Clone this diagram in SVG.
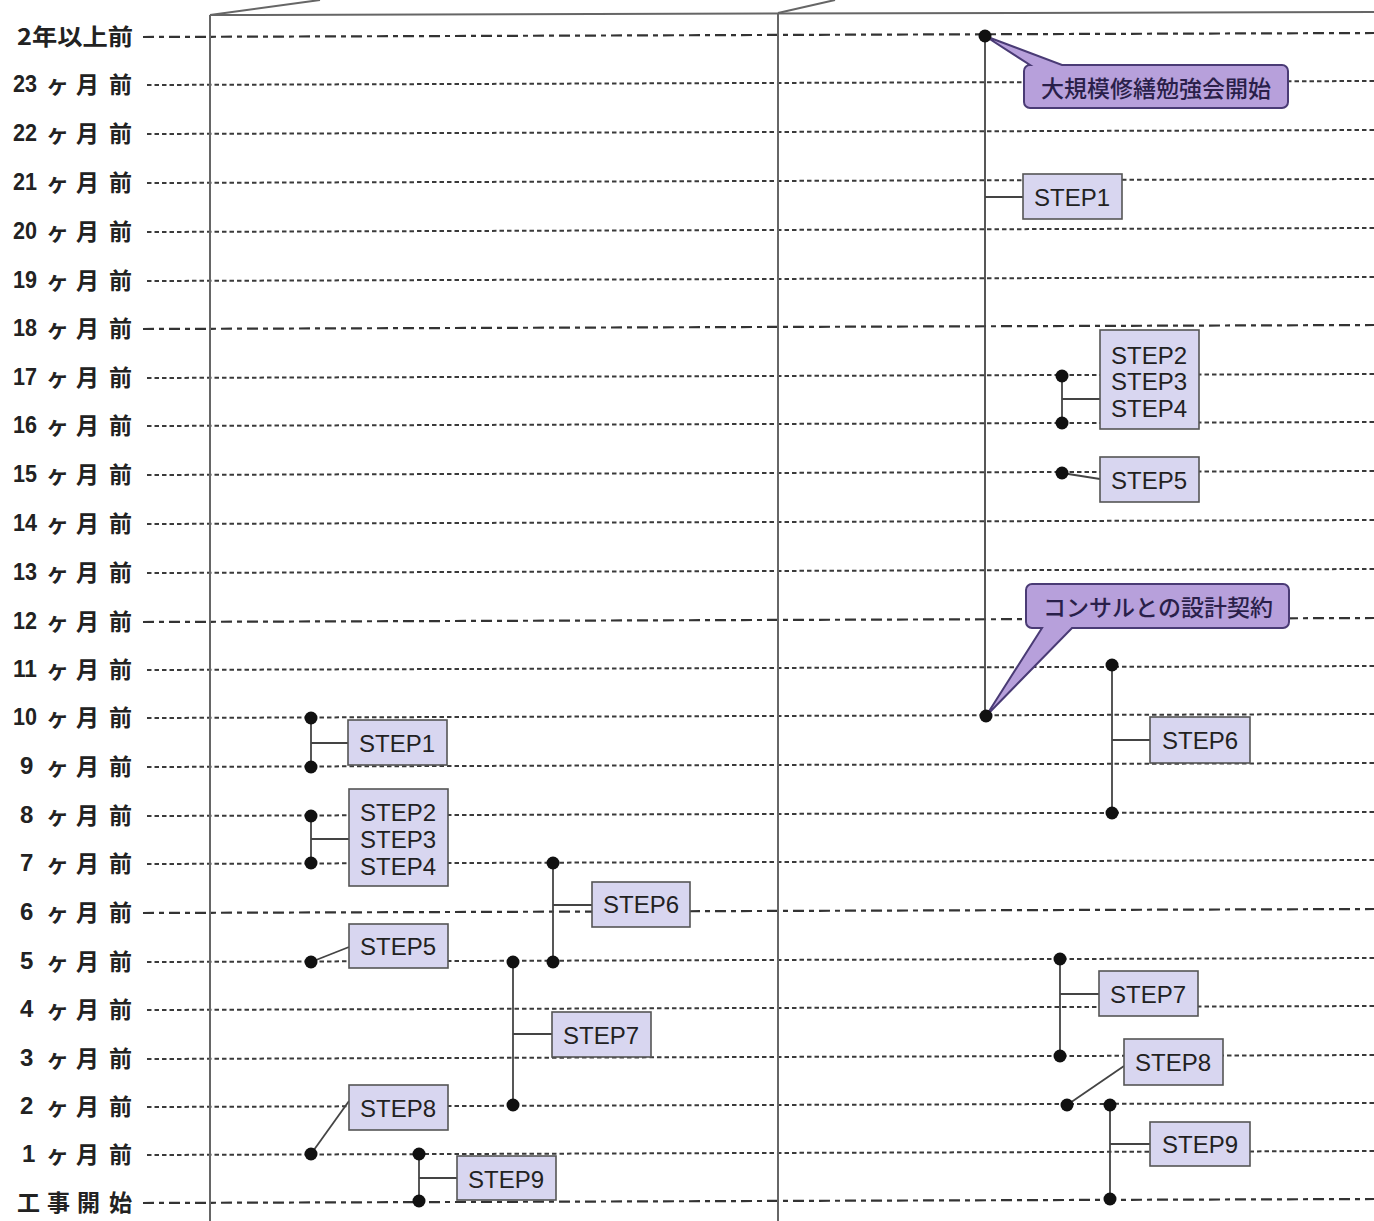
<svg xmlns="http://www.w3.org/2000/svg" width="1374" height="1221" viewBox="0 0 1374 1221">
<style>
.bg{fill:#ffffff}
.minor{stroke:#3a3a3a;stroke-width:2;stroke-dasharray:4.5 3;fill:none}
.major{stroke:#333;stroke-width:2.2;stroke-dasharray:11 5 5 5;fill:none}
.frame{stroke:#666;stroke-width:2;fill:none}
.conn{stroke:#444;stroke-width:1.8;fill:none}
.dot{fill:#111}
.box{fill:#d8d6f0;stroke:#555;stroke-width:1.6}
.step{font-family:"Liberation Sans","Noto Sans",sans-serif;font-size:24px;fill:#222;text-anchor:middle;dominant-baseline:central}
.lbl{font-family:"Noto Sans CJK JP","Noto Sans",sans-serif;font-size:23px;font-weight:bold;fill:#222;dominant-baseline:central}
.num{font-family:"Liberation Sans","Noto Sans CJK JP",sans-serif;font-size:24px;font-weight:bold;fill:#222;dominant-baseline:central}
.call{fill:#b7a0db;stroke:#4a3b75;stroke-width:2}
.ctext{font-family:"Noto Sans CJK JP","Noto Sans",sans-serif;font-size:23px;font-weight:500;fill:#2a1f4a;text-anchor:middle;dominant-baseline:central}
</style>
<rect class="bg" x="0" y="0" width="1374" height="1221"/>

<g id="gridlines">
<line class="major" x1="143" y1="37" x2="1374" y2="33"/>
<line class="minor" x1="147" y1="85" x2="1374" y2="81"/>
<line class="minor" x1="147" y1="134" x2="1374" y2="130"/>
<line class="minor" x1="147" y1="183" x2="1374" y2="179"/>
<line class="minor" x1="147" y1="232" x2="1374" y2="228"/>
<line class="minor" x1="147" y1="281" x2="1374" y2="277"/>
<line class="major" x1="143" y1="329" x2="1374" y2="325"/>
<line class="minor" x1="147" y1="378" x2="1374" y2="374"/>
<line class="minor" x1="147" y1="426" x2="1374" y2="422"/>
<line class="minor" x1="147" y1="475" x2="1374" y2="471"/>
<line class="minor" x1="147" y1="524" x2="1374" y2="520"/>
<line class="minor" x1="147" y1="573" x2="1374" y2="569"/>
<line class="major" x1="143" y1="622" x2="1374" y2="618"/>
<line class="minor" x1="147" y1="670" x2="1374" y2="666"/>
<line class="minor" x1="147" y1="718" x2="1374" y2="714"/>
<line class="minor" x1="147" y1="767" x2="1374" y2="763"/>
<line class="minor" x1="147" y1="816" x2="1374" y2="812"/>
<line class="minor" x1="147" y1="864" x2="1374" y2="860"/>
<line class="major" x1="143" y1="913" x2="1374" y2="909"/>
<line class="minor" x1="147" y1="962" x2="1374" y2="958"/>
<line class="minor" x1="147" y1="1010" x2="1374" y2="1006"/>
<line class="minor" x1="147" y1="1059" x2="1374" y2="1055"/>
<line class="minor" x1="147" y1="1107" x2="1374" y2="1103"/>
<line class="minor" x1="147" y1="1155" x2="1374" y2="1151"/>
<line class="major" x1="143" y1="1203" x2="1374" y2="1199"/>
</g>

<g id="frame">
<line class="frame" x1="210" y1="15" x2="210" y2="1221"/>
<line class="frame" x1="778" y1="13" x2="778" y2="1221"/>
<line class="frame" x1="210" y1="15" x2="1374" y2="12"/>
<line class="frame" x1="210" y1="15" x2="320" y2="0"/>
<line class="frame" x1="778" y1="13" x2="835" y2="0"/>
</g>

<g id="labels" transform="translate(0,-2)">
<text class="lbl" x="17" y="37" textLength="116" lengthAdjust="spacingAndGlyphs">2年以上前</text>
<g id="row-labels">
<text class="num" x="13" y="85" textLength="24" lengthAdjust="spacingAndGlyphs">23</text>
<text class="num" x="13" y="134" textLength="24" lengthAdjust="spacingAndGlyphs">22</text>
<text class="num" x="13" y="183" textLength="24" lengthAdjust="spacingAndGlyphs">21</text>
<text class="num" x="13" y="232" textLength="24" lengthAdjust="spacingAndGlyphs">20</text>
<text class="num" x="13" y="281" textLength="24" lengthAdjust="spacingAndGlyphs">19</text>
<text class="num" x="13" y="329" textLength="24" lengthAdjust="spacingAndGlyphs">18</text>
<text class="num" x="13" y="378" textLength="24" lengthAdjust="spacingAndGlyphs">17</text>
<text class="num" x="13" y="426" textLength="24" lengthAdjust="spacingAndGlyphs">16</text>
<text class="num" x="13" y="475" textLength="24" lengthAdjust="spacingAndGlyphs">15</text>
<text class="num" x="13" y="524" textLength="24" lengthAdjust="spacingAndGlyphs">14</text>
<text class="num" x="13" y="573" textLength="24" lengthAdjust="spacingAndGlyphs">13</text>
<text class="num" x="13" y="622" textLength="24" lengthAdjust="spacingAndGlyphs">12</text>
<text class="num" x="13" y="670" textLength="24" lengthAdjust="spacingAndGlyphs">11</text>
<text class="num" x="13" y="718" textLength="24" lengthAdjust="spacingAndGlyphs">10</text>
<text class="num" x="20" y="767">9</text>
<text class="num" x="20" y="816">8</text>
<text class="num" x="20" y="864">7</text>
<text class="num" x="20" y="913">6</text>
<text class="num" x="20" y="962">5</text>
<text class="num" x="20" y="1010">4</text>
<text class="num" x="20" y="1059">3</text>
<text class="num" x="20" y="1107">2</text>
<text class="num" x="22" y="1155">1</text>
</g>
<g id="unit-labels">
<text class="lbl" x="46" y="85">ヶ</text><text class="lbl" x="76" y="85">月</text><text class="lbl" x="109" y="85">前</text>
<text class="lbl" x="46" y="134">ヶ</text><text class="lbl" x="76" y="134">月</text><text class="lbl" x="109" y="134">前</text>
<text class="lbl" x="46" y="183">ヶ</text><text class="lbl" x="76" y="183">月</text><text class="lbl" x="109" y="183">前</text>
<text class="lbl" x="46" y="232">ヶ</text><text class="lbl" x="76" y="232">月</text><text class="lbl" x="109" y="232">前</text>
<text class="lbl" x="46" y="281">ヶ</text><text class="lbl" x="76" y="281">月</text><text class="lbl" x="109" y="281">前</text>
<text class="lbl" x="46" y="329">ヶ</text><text class="lbl" x="76" y="329">月</text><text class="lbl" x="109" y="329">前</text>
<text class="lbl" x="46" y="378">ヶ</text><text class="lbl" x="76" y="378">月</text><text class="lbl" x="109" y="378">前</text>
<text class="lbl" x="46" y="426">ヶ</text><text class="lbl" x="76" y="426">月</text><text class="lbl" x="109" y="426">前</text>
<text class="lbl" x="46" y="475">ヶ</text><text class="lbl" x="76" y="475">月</text><text class="lbl" x="109" y="475">前</text>
<text class="lbl" x="46" y="524">ヶ</text><text class="lbl" x="76" y="524">月</text><text class="lbl" x="109" y="524">前</text>
<text class="lbl" x="46" y="573">ヶ</text><text class="lbl" x="76" y="573">月</text><text class="lbl" x="109" y="573">前</text>
<text class="lbl" x="46" y="622">ヶ</text><text class="lbl" x="76" y="622">月</text><text class="lbl" x="109" y="622">前</text>
<text class="lbl" x="46" y="670">ヶ</text><text class="lbl" x="76" y="670">月</text><text class="lbl" x="109" y="670">前</text>
<text class="lbl" x="46" y="718">ヶ</text><text class="lbl" x="76" y="718">月</text><text class="lbl" x="109" y="718">前</text>
<text class="lbl" x="46" y="767">ヶ</text><text class="lbl" x="76" y="767">月</text><text class="lbl" x="109" y="767">前</text>
<text class="lbl" x="46" y="816">ヶ</text><text class="lbl" x="76" y="816">月</text><text class="lbl" x="109" y="816">前</text>
<text class="lbl" x="46" y="864">ヶ</text><text class="lbl" x="76" y="864">月</text><text class="lbl" x="109" y="864">前</text>
<text class="lbl" x="46" y="913">ヶ</text><text class="lbl" x="76" y="913">月</text><text class="lbl" x="109" y="913">前</text>
<text class="lbl" x="46" y="962">ヶ</text><text class="lbl" x="76" y="962">月</text><text class="lbl" x="109" y="962">前</text>
<text class="lbl" x="46" y="1010">ヶ</text><text class="lbl" x="76" y="1010">月</text><text class="lbl" x="109" y="1010">前</text>
<text class="lbl" x="46" y="1059">ヶ</text><text class="lbl" x="76" y="1059">月</text><text class="lbl" x="109" y="1059">前</text>
<text class="lbl" x="46" y="1107">ヶ</text><text class="lbl" x="76" y="1107">月</text><text class="lbl" x="109" y="1107">前</text>
<text class="lbl" x="46" y="1155">ヶ</text><text class="lbl" x="76" y="1155">月</text><text class="lbl" x="109" y="1155">前</text>
</g>
<text class="lbl" x="17" y="1203">工</text><text class="lbl" x="47" y="1203">事</text><text class="lbl" x="77" y="1203">開</text><text class="lbl" x="109" y="1203">始</text>
</g>

<g id="connectors">
<line class="conn" x1="311" y1="718" x2="311" y2="767"/>
<line class="conn" x1="311" y1="743" x2="348" y2="743"/>
<line class="conn" x1="311" y1="816" x2="311" y2="863"/>
<line class="conn" x1="311" y1="839" x2="349" y2="839"/>
<line class="conn" x1="311" y1="962" x2="349" y2="947"/>
<line class="conn" x1="311" y1="1154" x2="349" y2="1101"/>
<line class="conn" x1="419" y1="1154" x2="419" y2="1201"/>
<line class="conn" x1="419" y1="1178" x2="457" y2="1178"/>
<line class="conn" x1="513" y1="962" x2="513" y2="1105"/>
<line class="conn" x1="513" y1="1034" x2="552" y2="1034"/>
<line class="conn" x1="553" y1="863" x2="553" y2="962"/>
<line class="conn" x1="553" y1="905" x2="592" y2="905"/>
<line class="conn" x1="985" y1="36" x2="985" y2="716"/>
<line class="conn" x1="985" y1="197" x2="1023" y2="197"/>
<line class="conn" x1="1062" y1="376" x2="1062" y2="423"/>
<line class="conn" x1="1062" y1="399" x2="1100" y2="399"/>
<line class="conn" x1="1062" y1="473" x2="1100" y2="479"/>
<line class="conn" x1="1112" y1="665" x2="1112" y2="813"/>
<line class="conn" x1="1112" y1="740" x2="1150" y2="740"/>
<line class="conn" x1="1060" y1="959" x2="1060" y2="1056"/>
<line class="conn" x1="1060" y1="994" x2="1099" y2="994"/>
<line class="conn" x1="1067" y1="1105" x2="1124" y2="1066"/>
<line class="conn" x1="1110" y1="1105" x2="1110" y2="1199"/>
<line class="conn" x1="1110" y1="1144" x2="1150" y2="1144"/>
</g>

<g id="callout-start">
<path class="call" d="M1062 65 H1282 A6 6 0 0 1 1288 71 V102 A6 6 0 0 1 1282 108 H1030 A6 6 0 0 1 1024 102 V71 A6 6 0 0 1 1030 65 L985 36 Z"/>
<text class="ctext" x="1156" y="87">大規模修繕勉強会開始</text>
</g>
<g id="callout-contract">
<path class="call" d="M1032 584 H1283 A6 6 0 0 1 1289 590 V622 A6 6 0 0 1 1283 628 H1072 L986 716 L1042 628 H1032 A6 6 0 0 1 1026 622 V590 A6 6 0 0 1 1032 584 Z"/>
<text class="ctext" x="1158" y="606">コンサルとの設計契約</text>
</g>

<g id="L-step1"><rect class="box" x="348" y="720" width="99" height="45"/><text class="step" x="397" y="743">STEP1</text></g>
<g id="L-step234"><rect class="box" x="349" y="789" width="99" height="97"/><text class="step" x="398" y="812">STEP2</text><text class="step" x="398" y="839">STEP3</text><text class="step" x="398" y="866">STEP4</text></g>
<g id="L-step5"><rect class="box" x="349" y="924" width="99" height="44"/><text class="step" x="398" y="946">STEP5</text></g>
<g id="L-step6"><rect class="box" x="592" y="882" width="98" height="45"/><text class="step" x="641" y="904">STEP6</text></g>
<g id="L-step7"><rect class="box" x="552" y="1012" width="99" height="45"/><text class="step" x="601" y="1035">STEP7</text></g>
<g id="L-step8"><rect class="box" x="349" y="1085" width="99" height="45"/><text class="step" x="398" y="1108">STEP8</text></g>
<g id="L-step9"><rect class="box" x="457" y="1156" width="99" height="44"/><text class="step" x="506" y="1179">STEP9</text></g>

<g id="R-step1"><rect class="box" x="1023" y="174" width="99" height="45"/><text class="step" x="1072" y="197">STEP1</text></g>
<g id="R-step234"><rect class="box" x="1100" y="330" width="99" height="99"/><text class="step" x="1149" y="355">STEP2</text><text class="step" x="1149" y="381">STEP3</text><text class="step" x="1149" y="408">STEP4</text></g>
<g id="R-step5"><rect class="box" x="1100" y="457" width="99" height="45"/><text class="step" x="1149" y="480">STEP5</text></g>
<g id="R-step6"><rect class="box" x="1150" y="717" width="100" height="46"/><text class="step" x="1200" y="740">STEP6</text></g>
<g id="R-step7"><rect class="box" x="1099" y="971" width="99" height="45"/><text class="step" x="1148" y="994">STEP7</text></g>
<g id="R-step8"><rect class="box" x="1124" y="1039" width="99" height="46"/><text class="step" x="1173" y="1062">STEP8</text></g>
<g id="R-step9"><rect class="box" x="1150" y="1122" width="100" height="44"/><text class="step" x="1200" y="1144">STEP9</text></g>

<g id="dots">
<circle class="dot" cx="311" cy="718" r="6.5"/>
<circle class="dot" cx="311" cy="767" r="6.5"/>
<circle class="dot" cx="311" cy="816" r="6.5"/>
<circle class="dot" cx="311" cy="863" r="6.5"/>
<circle class="dot" cx="311" cy="962" r="6.5"/>
<circle class="dot" cx="311" cy="1154" r="6.5"/>
<circle class="dot" cx="419" cy="1154" r="6.5"/>
<circle class="dot" cx="419" cy="1201" r="6.5"/>
<circle class="dot" cx="513" cy="962" r="6.5"/>
<circle class="dot" cx="513" cy="1105" r="6.5"/>
<circle class="dot" cx="553" cy="863" r="6.5"/>
<circle class="dot" cx="553" cy="962" r="6.5"/>
<circle class="dot" cx="985" cy="36" r="6.5"/>
<circle class="dot" cx="986" cy="716" r="6.5"/>
<circle class="dot" cx="1062" cy="376" r="6.5"/>
<circle class="dot" cx="1062" cy="423" r="6.5"/>
<circle class="dot" cx="1062" cy="473" r="6.5"/>
<circle class="dot" cx="1112" cy="665" r="6.5"/>
<circle class="dot" cx="1112" cy="813" r="6.5"/>
<circle class="dot" cx="1060" cy="959" r="6.5"/>
<circle class="dot" cx="1060" cy="1056" r="6.5"/>
<circle class="dot" cx="1067" cy="1105" r="6.5"/>
<circle class="dot" cx="1110" cy="1105" r="6.5"/>
<circle class="dot" cx="1110" cy="1199" r="6.5"/>
</g>
</svg>
